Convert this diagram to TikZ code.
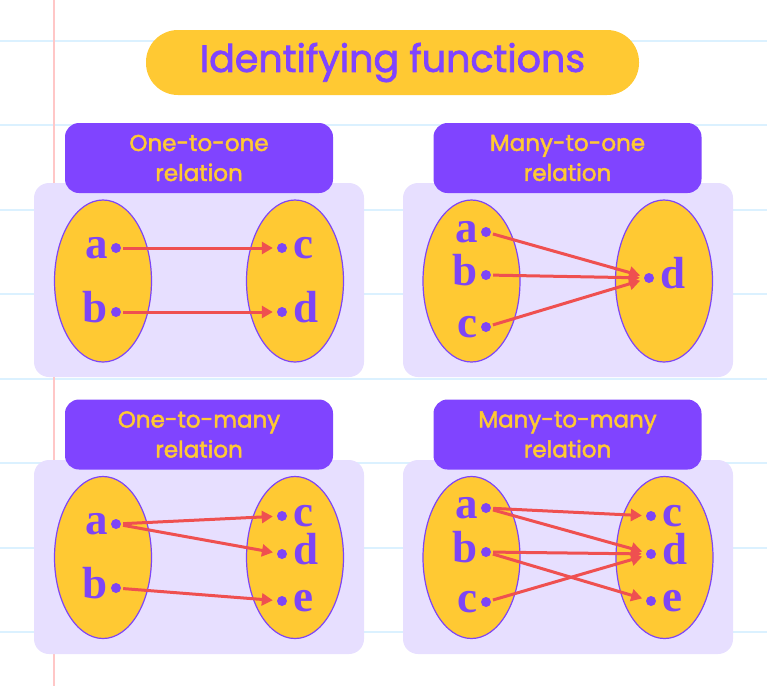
\documentclass[tikz,border=0pt]{standalone}
\usepackage{fontspec}
\setmainfont{Liberation Serif}
\newfontfamily\poppins{Poppins}[FakeBold=2]
\usetikzlibrary{shapes.geometric, arrows.meta, positioning}
\definecolor{setcol}{RGB}{255,201,51}
\definecolor{headcol}{RGB}{128,68,255}
\definecolor{panelcol}{RGB}{231,223,255}
\definecolor{lettercol}{RGB}{126,69,246}
\definecolor{arrowcol}{RGB}{239,80,80}
\definecolor{rulecol}{RGB}{219,241,255}
\definecolor{margincol}{RGB}{255,199,199}

\begin{document}
\begin{tikzpicture}[
			x=1pt,
			y=-1pt,
			title/.style={
				fill=setcol,
				rounded corners=32pt,
				minimum width=493pt,
				minimum height=65pt,
				text=headcol,
				font=\poppins\fontsize{38}{40}\selectfont
			},
			panel/.style={
				fill=panelcol,
				rounded corners=15pt,
				minimum width=330pt,
				minimum height=194pt
			},
			head/.style={
				fill=headcol,
				rounded corners=14pt,
				minimum width=268pt,
				minimum height=70pt,
				text=setcol,
				align=center,
				font=\poppins\fontsize{23}{30}\selectfont
			},
			set/.style={
				ellipse,
				draw=lettercol,
				line width=1.2pt,
				fill=setcol,
				minimum width=97pt,
				minimum height=162pt
			},
			dot/.style={
				circle,
				fill=lettercol,
				inner sep=0pt,
				minimum size=10pt
			},
			letter/.style={
				text=lettercol,
				font=\bfseries\fontsize{45}{45}\selectfont,
				inner sep=0pt,
				yshift=-10pt
			},
			lname/.style={
				letter,
				anchor=base east,
				xshift=-8pt
			},
			rname/.style={
				letter,
				anchor=base west,
				xshift=11pt
			},
			every edge/.style={
				draw=arrowcol,
				line width=3pt,
				-{Triangle[length=11pt,width=12pt]},
				shorten <=2pt,
				shorten >=4pt
			}
			]
			\useasboundingbox (0,0) rectangle (767,686);
			
			% Ruled paper
			\foreach \y in {40.7,125.2,209.7,294.2,378.7,463.2,547.7,632.2}
			\draw[rulecol, line width=2pt] (0,\y) -- (767,\y);
			\draw[margincol, line width=2pt] (54,0) -- (54,686);
			
			% Title
			\node[title] (ttl) at (392.5,62.5) {Identifying functions};
			
			% One-to-one
			\node[panel] (box1) at (199,280) {};
			\node[head] (head1) at (199,158) {One-to-one\\relation};
			\node[set] (dom1) at (103,281) {};
			\node[set] (cod1) at (295,281) {};
			\node[dot] (p1a) at (116,248) {};
			\node[dot] (p1b) at (116,312) {};
			\node[dot] (p1c) at (282,248) {};
			\node[dot] (p1d) at (282,312) {};
			\node[lname] at (p1a) {a};
			\node[lname] at (p1b) {b};
			\node[rname] at (p1c) {c};
			\node[rname] at (p1d) {d};
			
			% Many-to-one
			\node[panel] (box2) at (568,280) {};
			\node[head] (head2) at (567.5,158) {Many-to-one\\relation};
			\node[set] (dom2) at (471.5,281) {};
			\node[set] (cod2) at (664,281) {};
			\node[dot] (p2a) at (486,232) {};
			\node[dot] (p2b) at (486,275) {};
			\node[dot] (p2c) at (486,327) {};
			\node[dot] (p2d) at (649,278) {};
			\node[lname] at (p2a) {a};
			\node[lname] at (p2b) {b};
			\node[lname] at (p2c) {c};
			\node[rname] at (p2d) {d};
			
			% One-to-many
			\node[panel] (box3) at (199,557) {};
			\node[head] (head3) at (199,434.5) {One-to-many\\relation};
			\node[set] (dom3) at (103,557.5) {};
			\node[set] (cod3) at (295,557.5) {};
			\node[dot] (p3a) at (116,524) {};
			\node[dot] (p3b) at (116,588) {};
			\node[dot] (p3c) at (282,516) {};
			\node[dot] (p3d) at (282,554) {};
			\node[dot] (p3e) at (282,601) {};
			\node[lname] at (p3a) {a};
			\node[lname] at (p3b) {b};
			\node[rname] at (p3c) {c};
			\node[rname] at (p3d) {d};
			\node[rname] at (p3e) {e};
			
			% Many-to-many
			\node[panel] (box4) at (568,557) {};
			\node[head] (head4) at (567.5,434.5) {Many-to-many\\relation};
			\node[set] (dom4) at (471.5,557.5) {};
			\node[set] (cod4) at (664.5,557.5) {};
			\node[dot] (p4a) at (486,508) {};
			\node[dot] (p4b) at (486,552) {};
			\node[dot] (p4c) at (486,602) {};
			\node[dot] (p4x) at (651,516) {};
			\node[dot] (p4y) at (651,554) {};
			\node[dot] (p4z) at (651,601) {};
			\node[lname] at (p4a) {a};
			\node[lname] at (p4b) {b};
			\node[lname] at (p4c) {c};
			\node[rname] at (p4x) {c};
			\node[rname] at (p4y) {d};
			\node[rname] at (p4z) {e};
			
			% Arrows
			\path
			(p1a) edge (p1c)
			(p1b) edge (p1d)
			(p2a) edge (p2d)
			(p2b) edge (p2d)
			(p2c) edge (p2d)
			(p3a) edge (p3c)
			edge (p3d)
			(p3b) edge (p3e)
			(p4a) edge (p4x)
			edge (p4y)
			(p4b) edge (p4y)
			edge (p4z)
			(p4c) edge (p4y);
		\end{tikzpicture}
\end{document}
